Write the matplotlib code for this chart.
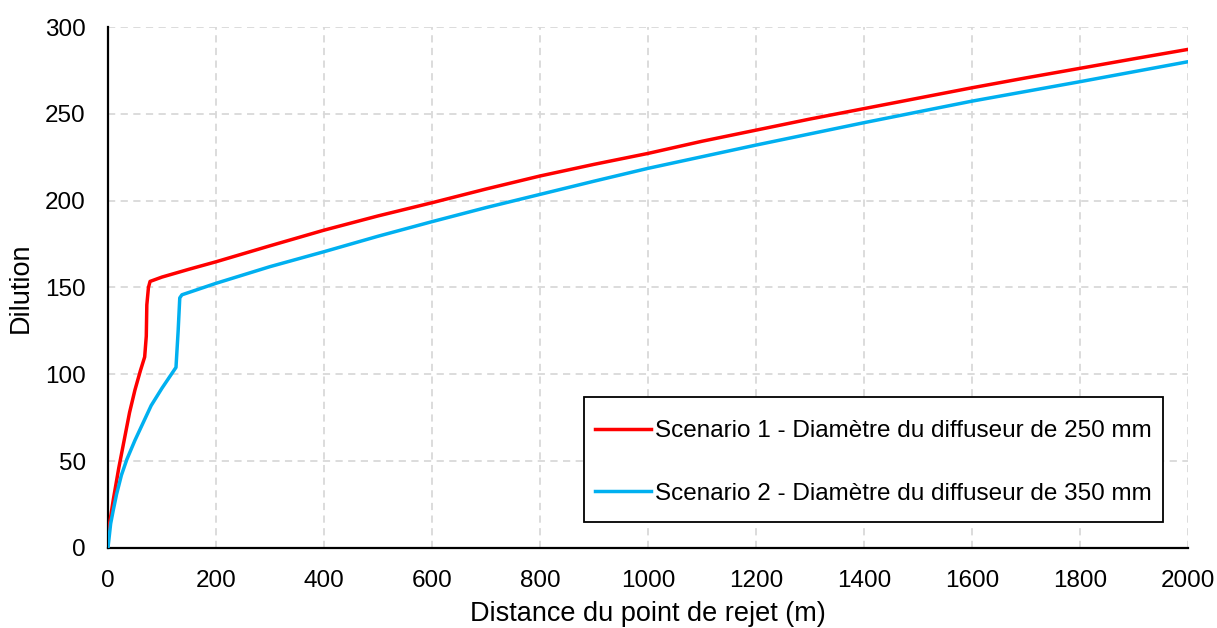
import numpy as np
import matplotlib.pyplot as plt
from matplotlib.patches import Rectangle

plt.rcParams['font.family'] = ['Liberation Sans', 'DejaVu Sans']

# scenario 1 - diffuser 250 mm
dist_s1 = [0, 10, 20, 30, 40, 50, 60, 68, 71, 72, 75, 78, 100, 150, 200, 300, 400, 500,
           600, 700, 800, 900, 1000, 1100, 1200, 1300, 1400, 1500, 1600, 1700, 1800,
           1900, 2000]
dil_s1 = [8, 28, 46, 62, 78, 91, 102, 110, 122, 140, 150, 153.5, 156, 160.5, 164.8, 174,
          183, 191.2, 198.8, 206.7, 214.2, 220.9, 227.2, 234.2, 240.6, 247, 253, 259,
          265, 270.7, 276.2, 281.7, 287.1]

# scenario 2 - diffuser 350 mm
dist_s2 = [0, 5, 10, 16, 25, 35, 50, 62, 80, 100, 126, 130, 133, 137, 200, 300, 400,
           500, 600, 700, 800, 900, 1000, 1200, 1400, 1600, 1800, 2000]
dil_s2 = [0, 14, 22, 31, 42, 51, 62, 70, 82, 92, 104, 125, 144, 145.8, 152.4, 162,
          170.6, 179.5, 187.9, 196, 203.6, 211.2, 218.6, 232, 244.9, 257.3, 268.5, 280]

labels = ['Scenario 1 - Diamètre du diffuseur de 250 mm',
          'Scenario 2 - Diamètre du diffuseur de 350 mm']

fig = plt.figure(figsize=(12.17, 6.28), dpi=100)
ax = fig.add_axes([0.0887, 0.1274, 0.8874, 0.8296])

ax.plot(dist_s1, dil_s1, color='#FF0000', lw=2.5, label=labels[0], zorder=3)
ax.plot(dist_s2, dil_s2, color='#00B0F0', lw=2.5, label=labels[1], zorder=3)

ax.set_xlim(0, 2000)
ax.set_ylim(0, 300)
ax.set_xticks(np.arange(0, 2001, 200))
ax.set_yticks(np.arange(0, 301, 50))
ax.tick_params(length=0, labelsize=17.5)
ax.tick_params(axis='x', pad=16)
ax.tick_params(axis='y', pad=16)
ax.grid(True, color='#D9D9D9', ls=(0, (4, 3)), lw=1.3)
ax.set_axisbelow(True)
for s in ['top', 'right']:
    ax.spines[s].set_visible(False)
for s in ['left', 'bottom']:
    ax.spines[s].set_linewidth(1.6)
    ax.spines[s].set_color('black')

ax.set_xlabel('Distance du point de rejet (m)', fontsize=19.5, labelpad=6)
ax.set_ylabel('Dilution', fontsize=19.5, labelpad=8)

# legend box drawn separately so it can be taller than the entries need
box = Rectangle((0.4407, 0.0499), 0.5362, 0.2399, transform=ax.transAxes,
                facecolor='white', edgecolor='black', lw=1.3, zorder=4)
ax.add_patch(box)
leg = ax.legend(loc='center', bbox_to_anchor=(0.7088, 0.164), fontsize=17.5,
                frameon=False, handlelength=2.3, handletextpad=0.2,
                labelspacing=1.66, borderpad=0.4, borderaxespad=0)
leg.set_zorder(5)

fig.savefig('out.png', dpi=100)
